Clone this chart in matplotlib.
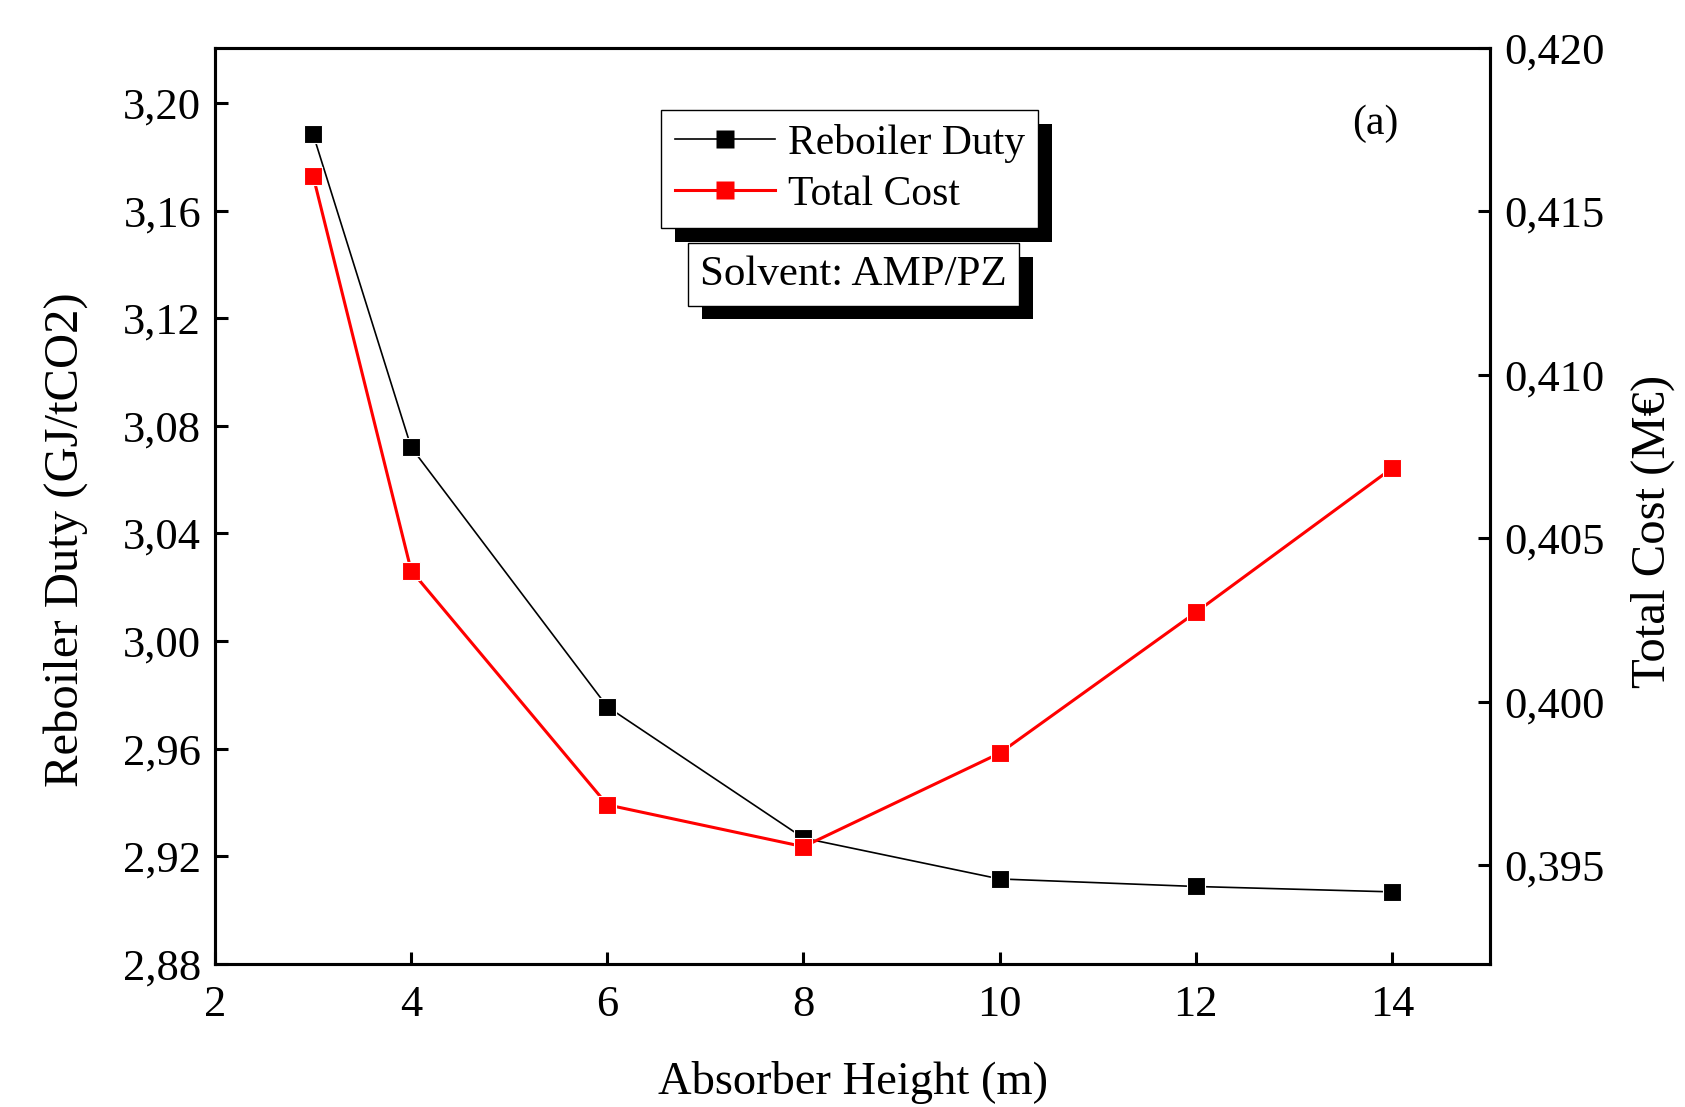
import matplotlib
matplotlib.use("Agg")
import matplotlib.pyplot as plt
import matplotlib.patheffects as pe
from matplotlib.ticker import FixedLocator, FuncFormatter

plt.rcParams['font.family'] = ['Liberation Serif', 'DejaVu Serif']

height = [3, 4, 6, 8, 10, 12, 14]
reboiler_duty = [3.1884, 3.072, 2.9756, 2.9268, 2.9116, 2.9088, 2.9068]
total_cost = [0.41609, 0.40401, 0.39684, 0.39556, 0.39842, 0.40273, 0.40714]

x_ticks = [2, 4, 6, 8, 10, 12, 14]
y_left_ticks = [2.88, 2.92, 2.96, 3.00, 3.04, 3.08, 3.12, 3.16, 3.20]
y_right_ticks = [0.395, 0.400, 0.405, 0.410, 0.415, 0.420]

FS = 32
fig = plt.figure(figsize=(16.85, 11.07), dpi=100)
ax = fig.add_axes([0.1276, 0.1292, 0.8843 - 0.1276, 0.9566 - 0.1292])
ax2 = ax.twinx()

l1, = ax.plot(height, reboiler_duty, color='black', lw=1.2, marker='s', ms=13,
              markerfacecolor='black', markeredgecolor='white', markeredgewidth=0.8,
              label='Reboiler Duty', zorder=3)
l2, = ax2.plot(height, total_cost, color='red', lw=2.2, marker='s', ms=13,
               markerfacecolor='red', markeredgecolor='white', markeredgewidth=0.8,
               label='Total Cost', zorder=3)

ax.set_xlim(2, 15)
ax.set_ylim(2.88, 3.2204)
ax2.set_ylim(0.39197, 0.420)

ax.xaxis.set_major_locator(FixedLocator(x_ticks))
ax.yaxis.set_major_locator(FixedLocator(y_left_ticks))
ax2.yaxis.set_major_locator(FixedLocator(y_right_ticks))
ax.yaxis.set_major_formatter(FuncFormatter(lambda v, p: f"{v:.2f}".replace('.', ',')))
ax2.yaxis.set_major_formatter(FuncFormatter(lambda v, p: f"{v:.3f}".replace('.', ',')))

for a in (ax, ax2):
    for s in a.spines.values():
        s.set_linewidth(2.2)
ax.tick_params(axis='both', direction='in', length=9, width=2.2, labelsize=FS, pad=10)
ax.tick_params(axis='x', pad=15)
ax2.tick_params(axis='y', direction='in', length=9, width=2.2, labelsize=FS, pad=10)

ax.set_xlabel('Absorber Height (m)', fontsize=33.5, labelpad=26)
ax.set_ylabel('Reboiler Duty (GJ/tCO2)', fontsize=35)
ax2.set_ylabel('Total Cost (M€)', fontsize=35)
ax.yaxis.set_label_coords(-0.0995, 0.4636)
ax2.yaxis.set_label_coords(1.1104, 0.472)

leg = ax.legend(handles=[l1, l2], loc='upper left', bbox_to_anchor=(0.350, 0.932),
                borderaxespad=0, fontsize=30, frameon=True, fancybox=False,
                edgecolor='black', framealpha=1, numpoints=1, handlelength=2.4,
                handletextpad=0.3, borderpad=0.33, labelspacing=0.3)
leg.get_frame().set_linewidth(1.0)
leg.get_frame().set_path_effects([
    pe.withSimplePatchShadow(offset=(10, -10), shadow_rgbFace='black', alpha=1.0),
])
leg.set_zorder(10)
for h in leg.legend_handles:
    h.set_markeredgecolor('none')

t = ax.text(0.501, 0.753, 'Solvent: AMP/PZ', transform=ax.transAxes, fontsize=31,
            ha='center', va='center', zorder=10,
            bbox=dict(boxstyle='square,pad=0.28', facecolor='white', edgecolor='black', lw=1.0))
t.get_bbox_patch().set_path_effects([
    pe.withSimplePatchShadow(offset=(10, -10), shadow_rgbFace='black', alpha=1.0),
])

ax.text(0.910, 0.917, '(a)', transform=ax.transAxes, fontsize=FS - 2,
        ha='center', va='center')

fig.savefig('out.png', dpi=100)
